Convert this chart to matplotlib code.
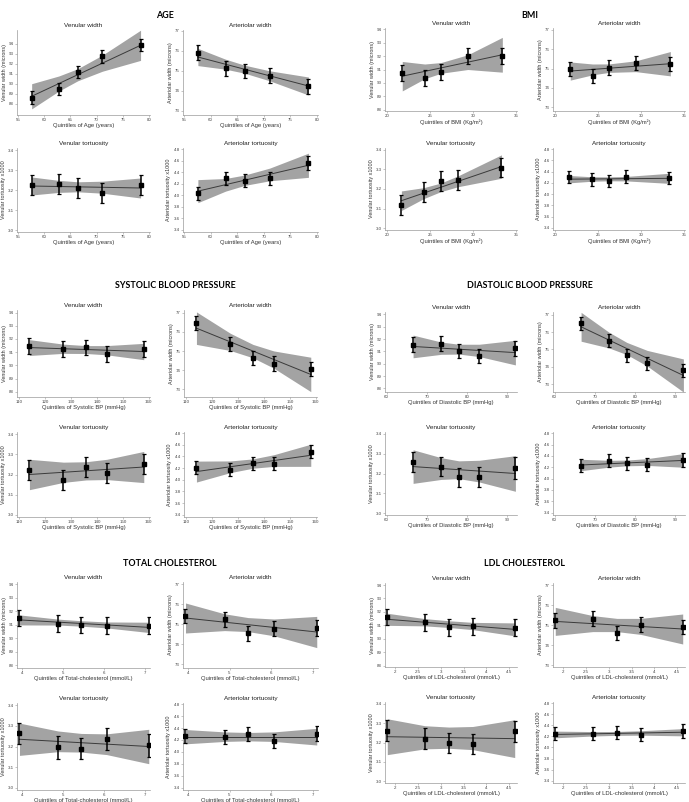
import matplotlib
matplotlib.use('Agg')
import matplotlib.pyplot as plt

W, H = 689, 802

# ---------------- data ----------------
# AGE
age_x = [57.6, 62.8, 66.4, 71.1, 78.4]
age_vw_y = [88.62, 89.47, 91.22, 92.75, 93.82]
age_vw_err = [0.65, 0.62, 0.6, 0.65, 0.6]
age_vw_fit = [88.76, 93.83]
age_vw_lo = [87.51, 89.28, 90.30, 91.25, 92.33]
age_vw_hi = [90.01, 90.78, 91.50, 92.85, 95.33]

age_aw_y = [75.92, 75.13, 75.0, 74.77, 74.23]
age_aw_err = [0.37, 0.37, 0.37, 0.37, 0.37]
age_aw_fit = [75.70, 74.25]
age_aw_lo = [75.27, 75.09, 74.89, 74.51, 73.80]
age_aw_hi = [76.13, 75.59, 75.29, 75.01, 74.70]

age_vt_y = [3.225, 3.23, 3.21, 3.187, 3.225]
age_vt_err = [0.05, 0.05, 0.05, 0.05, 0.05]
age_vt_fit = [3.22, 3.21]
age_vt_lo = [3.175, 3.188, 3.191, 3.184, 3.160]
age_vt_hi = [3.265, 3.248, 3.241, 3.244, 3.260]

age_at_y = [4.03, 4.29, 4.25, 4.29, 4.56]
age_at_err = [0.11, 0.11, 0.11, 0.11, 0.12]
age_at_fit = [4.07, 4.52]
age_at_lo = [3.87, 4.07, 4.17, 4.25, 4.31]
age_at_hi = [4.27, 4.29, 4.35, 4.47, 4.73]

# BMI
bmi_x_width = [21.8, 24.4, 26.3, 29.4, 33.4]
bmi_x_tort = [21.7, 24.3, 26.3, 28.3, 33.3]
bmi_vw_y = [90.75, 90.4, 90.82, 92.0, 92.0]
bmi_vw_err = [0.6, 0.6, 0.6, 0.6, 0.6]
bmi_vw_fit = [90.5, 92.1]
bmi_vw_lo = [89.4, 90.31, 90.72, 91.0, 90.8]
bmi_vw_hi = [91.6, 91.41, 91.52, 92.1, 93.4]

bmi_aw_y = [74.97, 74.63, 75.05, 75.3, 75.22]
bmi_aw_err = [0.37, 0.37, 0.37, 0.37, 0.37]
bmi_aw_fit = [74.87, 75.25]
bmi_aw_lo = [74.40, 74.675, 74.80, 74.84, 74.62]
bmi_aw_hi = [75.34, 75.235, 75.24, 75.40, 75.88]

bmi_vt_y = [3.118, 3.184, 3.24, 3.245, 3.309]
bmi_vt_err = [0.05, 0.05, 0.05, 0.05, 0.05]
bmi_vt_fit = [3.14, 3.315]
bmi_vt_lo = [3.09, 3.151, 3.187, 3.212, 3.255]
bmi_vt_hi = [3.19, 3.207, 3.231, 3.268, 3.375]

bmi_at_y = [4.30, 4.26, 4.23, 4.31, 4.29]
bmi_at_err = [0.11, 0.11, 0.11, 0.11, 0.11]
bmi_at_fit = [4.265, 4.28]
bmi_at_lo = [4.20, 4.228, 4.236, 4.234, 4.19]
bmi_at_hi = [4.33, 4.308, 4.306, 4.314, 4.37]

# SYSTOLIC BP
sbp_x = [114.0, 127.1, 135.8, 143.8, 158.1]
sbp_vw_y = [91.49, 91.24, 91.36, 90.86, 91.26]
sbp_vw_err = [0.6, 0.6, 0.6, 0.6, 0.6]
sbp_vw_fit = [91.35, 91.05]
sbp_vw_lo = [90.75, 90.91, 90.90, 90.80, 90.43]
sbp_vw_hi = [91.95, 91.61, 91.50, 91.50, 91.67]

sbp_aw_y = [76.49, 75.36, 74.66, 74.35, 74.07]
sbp_aw_err = [0.37, 0.37, 0.37, 0.37, 0.37]
sbp_aw_fit = [76.2, 73.78]
sbp_aw_lo = [75.35, 75.03, 74.65, 74.11, 72.88]
sbp_aw_hi = [77.05, 75.93, 75.35, 75.01, 74.68]

sbp_vt_y = [3.222, 3.173, 3.237, 3.207, 3.253]
sbp_vt_err = [0.05, 0.05, 0.05, 0.05, 0.05]
sbp_vt_fit = [3.20, 3.237]
sbp_vt_lo = [3.125, 3.161, 3.173, 3.175, 3.16]
sbp_vt_hi = [3.275, 3.261, 3.263, 3.275, 3.314]

sbp_at_y = [4.21, 4.17, 4.28, 4.275, 4.485]
sbp_at_err = [0.11, 0.11, 0.11, 0.11, 0.12]
sbp_at_fit = [4.14, 4.42]
sbp_at_lo = [3.96, 4.123, 4.198, 4.229, 4.23]
sbp_at_hi = [4.32, 4.323, 4.358, 4.429, 4.61]

# DIASTOLIC BP
dbp_x = [66.6, 73.6, 78.0, 83.1, 92.1]
dbp_vw_y = [91.54, 91.64, 91.04, 90.63, 91.26]
dbp_vw_err = [0.6, 0.6, 0.6, 0.6, 0.6]
dbp_vw_fit = [91.4, 90.9]
dbp_vw_lo = [90.48, 90.76, 90.78, 90.58, 89.9]
dbp_vw_hi = [92.32, 91.76, 91.58, 91.58, 91.9]

dbp_aw_y = [76.5, 75.5, 74.66, 74.2, 73.8]
dbp_aw_err = [0.37, 0.37, 0.37, 0.37, 0.37]
dbp_aw_fit = [76.3, 73.5]
dbp_aw_lo = [75.47, 75.08, 74.70, 74.04, 72.55]
dbp_aw_hi = [77.13, 75.98, 75.40, 74.94, 74.45]

dbp_vt_y = [3.258, 3.235, 3.18, 3.182, 3.226]
dbp_vt_err = [0.05, 0.05, 0.05, 0.05, 0.055]
dbp_vt_fit = [3.235, 3.20]
dbp_vt_lo = [3.15, 3.17, 3.174, 3.157, 3.11]
dbp_vt_hi = [3.32, 3.28, 3.264, 3.267, 3.29]

dbp_at_y = [4.23, 4.316, 4.27, 4.245, 4.33]
dbp_at_err = [0.11, 0.12, 0.11, 0.11, 0.12]
dbp_at_fit = [4.24, 4.32]
dbp_at_lo = [4.14, 4.202, 4.226, 4.232, 4.2]
dbp_at_hi = [4.34, 4.322, 4.326, 4.352, 4.44]

# TOTAL CHOLESTEROL
tc_x = [3.94, 4.88, 5.45, 6.07, 7.1]
tc_vw_y = [91.5, 91.08, 91.0, 90.93, 90.93]
tc_vw_err = [0.6, 0.6, 0.6, 0.6, 0.6]
tc_vw_fit = [91.35, 90.8]
tc_vw_lo = [90.98, 90.97, 90.89, 90.76, 90.42]
tc_vw_hi = [91.72, 91.41, 91.29, 91.2, 91.18]

tc_aw_y = [75.4, 75.23, 74.54, 74.77, 74.82]
tc_aw_err = [0.37, 0.37, 0.37, 0.37, 0.4]
tc_aw_fit = [75.3, 74.6]
tc_aw_lo = [74.55, 74.67, 74.62, 74.41, 73.82]
tc_aw_hi = [76.05, 75.51, 75.32, 75.25, 75.38]

tc_vt_y = [3.263, 3.197, 3.19, 3.235, 3.205]
tc_vt_err = [0.05, 0.055, 0.05, 0.052, 0.055]
tc_vt_fit = [3.235, 3.20]
tc_vt_lo = [3.157, 3.175, 3.173, 3.161, 3.117]
tc_vt_hi = [3.313, 3.275, 3.263, 3.261, 3.283]

tc_at_y = [4.27, 4.255, 4.305, 4.187, 4.305]
tc_at_err = [0.12, 0.12, 0.12, 0.12, 0.13]
tc_at_fit = [4.255, 4.255]
tc_at_lo = [4.135, 4.175, 4.185, 4.175, 4.115]
tc_at_hi = [4.375, 4.335, 4.325, 4.335, 4.395]

# LDL CHOLESTEROL
ldl_x = [1.83, 2.65, 3.18, 3.70, 4.62]
ldl_vw_y = [91.62, 91.22, 90.86, 90.93, 90.83]
ldl_vw_err = [0.62, 0.62, 0.62, 0.62, 0.62]
ldl_vw_fit = [91.45, 90.7]
ldl_vw_lo = [91.0, 90.96, 90.84, 90.68, 90.22]
ldl_vw_hi = [91.9, 91.5, 91.34, 91.22, 91.18]

ldl_aw_y = [75.24, 75.32, 74.6, 75.02, 74.9]
ldl_aw_err = [0.37, 0.37, 0.37, 0.37, 0.37]
ldl_aw_fit = [75.18, 74.8]
ldl_aw_lo = [74.48, 74.67, 74.67, 74.53, 74.05]
ldl_aw_hi = [75.88, 75.47, 75.33, 75.33, 75.55]

ldl_vt_y = [3.262, 3.22, 3.196, 3.192, 3.258]
ldl_vt_err = [0.055, 0.053, 0.053, 0.053, 0.055]
ldl_vt_fit = [3.23, 3.22]
ldl_vt_lo = [3.137, 3.167, 3.17, 3.163, 3.122]
ldl_vt_hi = [3.323, 3.287, 3.28, 3.283, 3.318]

ldl_at_y = [4.25, 4.25, 4.27, 4.23, 4.30]
ldl_at_err = [0.12, 0.12, 0.12, 0.12, 0.12]
ldl_at_fit = [4.235, 4.275]
ldl_at_lo = [4.175, 4.207, 4.219, 4.222, 4.21]
ldl_at_hi = [4.295, 4.287, 4.289, 4.302, 4.34]

# ticks / labels
vw_ticks = [88, 89, 90, 91, 92, 93, 94]
aw_ticks = [73, 74, 75, 76, 77]
vt_ticks = [3.0, 3.1, 3.2, 3.3, 3.4]
at_ticks = [3.4, 3.6, 3.8, 4.0, 4.2, 4.4, 4.6, 4.8]

panel_titles = ["Venular width", "Arteriolar width", "Venular tortuosity", "Arteriolar tortuosity"]
y_labels = ["Venular width (microns)", "Arteriolar width (microns)",
            "Venular tortuosity x1000", "Arteriolar tortuosity x1000"]

group_titles = ["AGE", "BMI", "SYSTOLIC BLOOD PRESSURE", "DIASTOLIC BLOOD PRESSURE",
                "TOTAL CHOLESTEROL", "LDL CHOLESTEROL"]
x_labels = ["Quintiles of Age (years)", "Quintiles of BMI (Kg/m²)",
            "Quintiles of Systolic BP (mmHg)", "Quintiles of Diastolic BP (mmHg)",
            "Quintiles of Total-cholesterol (mmol/L)", "Quintiles of LDL-cholesterol (mmol/L)"]
age_xticks = [55, 60, 65, 70, 75, 80]
bmi_xticks = [20, 25, 30, 35]
sbp_xticks = [110, 120, 130, 140, 150, 160]
dbp_xticks = [60, 70, 80, 90]
tc_xticks = [4, 5, 6, 7]
ldl_xticks = [2, 2.5, 3, 3.5, 4, 4.5]

# ---------------- layout (pixels) ----------------
fig = plt.figure(figsize=(W / 100, H / 100), dpi=100)
plt.rcParams['font.family'] = ['Liberation Sans', 'DejaVu Sans']

def box(l, t, r, b):
    return [l / W, 1 - b / H, (r - l) / W, (b - t) / H]

BAND = '#a3a3a3'
SPINE = '#9a9a9a'

def panel(rect, x, y, err, fit, lo, hi, xticks, xlim, yticks, ylim, title, ylabel, xlabel, ydec):
    ax = fig.add_axes(box(*rect))
    ax.fill_between(x, lo, hi, color=BAND, lw=0, zorder=1)
    ax.plot([x[0], x[-1]], fit, color='#3a3a3a', lw=0.7, zorder=2)
    ax.errorbar(x, y, yerr=err, fmt='s', color='black', ms=3.2, elinewidth=1.1,
                capsize=1.6, capthick=0.9, zorder=3)
    ax.set_xlim(*xlim)
    ax.set_ylim(*ylim)
    ax.set_xticks(xticks)
    ax.set_xticklabels([('%g' % t) for t in xticks])
    ax.set_yticks(yticks)
    ax.set_yticklabels([(('%.1f' % t) if ydec else ('%d' % t)) for t in yticks])
    for s in ['top', 'right']:
        ax.spines[s].set_visible(False)
    for s in ['left', 'bottom']:
        ax.spines[s].set_color(SPINE)
        ax.spines[s].set_linewidth(0.5)
    ax.tick_params(axis='both', labelsize=3.2, length=1.3, width=0.4, pad=1,
                   colors='#444444')
    ax.tick_params(axis='both', color=SPINE)
    ax.set_title(title, fontsize=4.6, pad=2.5, color='#222222')
    ax.set_ylabel(ylabel, fontsize=3.9, labelpad=1.5, color='#333333')
    ax.set_xlabel(xlabel, fontsize=4.2, labelpad=0.5, color='#333333')
    return ax

groups = [
    dict(title=group_titles[0], tpos=(165, 15), xlabel=x_labels[0], xticks=age_xticks,
         xlim=(54.8, 80.2), cols=(17, 150, 183, 318), rows=((30, 115), (148, 232)),
         panels=[(age_x, age_vw_y, age_vw_err, age_vw_fit, age_vw_lo, age_vw_hi, (86.9, 95.35)),
                 (age_x, age_aw_y, age_aw_err, age_aw_fit, age_aw_lo, age_aw_hi, (72.8, 77.05)),
                 (age_x, age_vt_y, age_vt_err, age_vt_fit, age_vt_lo, age_vt_hi, (2.99, 3.41)),
                 (age_x, age_at_y, age_at_err, age_at_fit, age_at_lo, age_at_hi, (3.36, 4.82))]),
    dict(title=group_titles[1], tpos=(530, 15), xlabel=x_labels[1], xticks=bmi_xticks,
         xlim=(19.8, 35.1), cols=(385, 517, 553, 685), rows=((28, 111), (148, 230)),
         panels=[(bmi_x_width, bmi_vw_y, bmi_vw_err, bmi_vw_fit, bmi_vw_lo, bmi_vw_hi, (87.9, 94.1)),
                 (bmi_x_width, bmi_aw_y, bmi_aw_err, bmi_aw_fit, bmi_aw_lo, bmi_aw_hi, (72.8, 77.1)),
                 (bmi_x_tort, bmi_vt_y, bmi_vt_err, bmi_vt_fit, bmi_vt_lo, bmi_vt_hi, (2.99, 3.41)),
                 (bmi_x_tort, bmi_at_y, bmi_at_err, bmi_at_fit, bmi_at_lo, bmi_at_hi, (3.36, 4.82))]),
    dict(title=group_titles[2], tpos=(175, 285), xlabel=x_labels[2], xticks=sbp_xticks,
         xlim=(109.2, 160.5), cols=(17, 150, 184, 317), rows=((310, 397), (432, 517)),
         panels=[(sbp_x, sbp_vw_y, sbp_vw_err, sbp_vw_fit, sbp_vw_lo, sbp_vw_hi, (87.6, 94.2)),
                 (sbp_x, sbp_aw_y, sbp_aw_err, sbp_aw_fit, sbp_aw_lo, sbp_aw_hi, (72.6, 77.15)),
                 (sbp_x, sbp_vt_y, sbp_vt_err, sbp_vt_fit, sbp_vt_lo, sbp_vt_hi, (2.99, 3.41)),
                 (sbp_x, sbp_at_y, sbp_at_err, sbp_at_fit, sbp_at_lo, sbp_at_hi, (3.36, 4.82))]),
    dict(title=group_titles[3], tpos=(530, 285), xlabel=x_labels[3], xticks=dbp_xticks,
         xlim=(59.6, 92.5), cols=(385, 517, 553, 685), rows=((312, 392), (432, 515)),
         panels=[(dbp_x, dbp_vw_y, dbp_vw_err, dbp_vw_fit, dbp_vw_lo, dbp_vw_hi, (87.7, 94.2)),
                 (dbp_x, dbp_aw_y, dbp_aw_err, dbp_aw_fit, dbp_aw_lo, dbp_aw_hi, (72.55, 77.15)),
                 (dbp_x, dbp_vt_y, dbp_vt_err, dbp_vt_fit, dbp_vt_lo, dbp_vt_hi, (2.99, 3.41)),
                 (dbp_x, dbp_at_y, dbp_at_err, dbp_at_fit, dbp_at_lo, dbp_at_hi, (3.36, 4.82))]),
    dict(title=group_titles[4], tpos=(170, 564), xlabel=x_labels[4], xticks=tc_xticks,
         xlim=(3.88, 7.13), cols=(17, 150, 183, 318), rows=((582, 668), (703, 790)),
         panels=[(tc_x, tc_vw_y, tc_vw_err, tc_vw_fit, tc_vw_lo, tc_vw_hi, (87.8, 94.15)),
                 (tc_x, tc_aw_y, tc_aw_err, tc_aw_fit, tc_aw_lo, tc_aw_hi, (72.8, 77.1)),
                 (tc_x, tc_vt_y, tc_vt_err, tc_vt_fit, tc_vt_lo, tc_vt_hi, (2.99, 3.41)),
                 (tc_x, tc_at_y, tc_at_err, tc_at_fit, tc_at_lo, tc_at_hi, (3.36, 4.82))]),
    dict(title=group_titles[5], tpos=(525, 564), xlabel=x_labels[5], xticks=ldl_xticks,
         xlim=(1.78, 4.67), cols=(385, 517, 553, 685), rows=((583, 667), (702, 783)),
         panels=[(ldl_x, ldl_vw_y, ldl_vw_err, ldl_vw_fit, ldl_vw_lo, ldl_vw_hi, (87.9, 94.15)),
                 (ldl_x, ldl_aw_y, ldl_aw_err, ldl_aw_fit, ldl_aw_lo, ldl_aw_hi, (72.9, 77.1)),
                 (ldl_x, ldl_vt_y, ldl_vt_err, ldl_vt_fit, ldl_vt_lo, ldl_vt_hi, (2.99, 3.41)),
                 (ldl_x, ldl_at_y, ldl_at_err, ldl_at_fit, ldl_at_lo, ldl_at_hi, (3.36, 4.82))]),
]

ytick_sets = [(vw_ticks, False), (aw_ticks, False), (vt_ticks, True), (at_ticks, True)]

for g in groups:
    c = g['cols']
    for i, p in enumerate(g['panels']):
        row = g['rows'][i // 2]
        l, r = (c[0], c[1]) if i % 2 == 0 else (c[2], c[3])
        x, y, err, fit, lo, hi, ylim = p
        yt, dec = ytick_sets[i]
        panel((l, row[0], r, row[1]), x, y, err, fit, lo, hi, g['xticks'], g['xlim'],
              yt, ylim, panel_titles[i], y_labels[i], g['xlabel'], dec)
    fig.text(g['tpos'][0] / W, 1 - g['tpos'][1] / H, g['title'], ha='center', va='center',
             fontsize=6.4, fontweight='bold', family=['Lato', 'DejaVu Sans'], color='black')

fig.savefig('out.png', dpi=100, facecolor='white')
